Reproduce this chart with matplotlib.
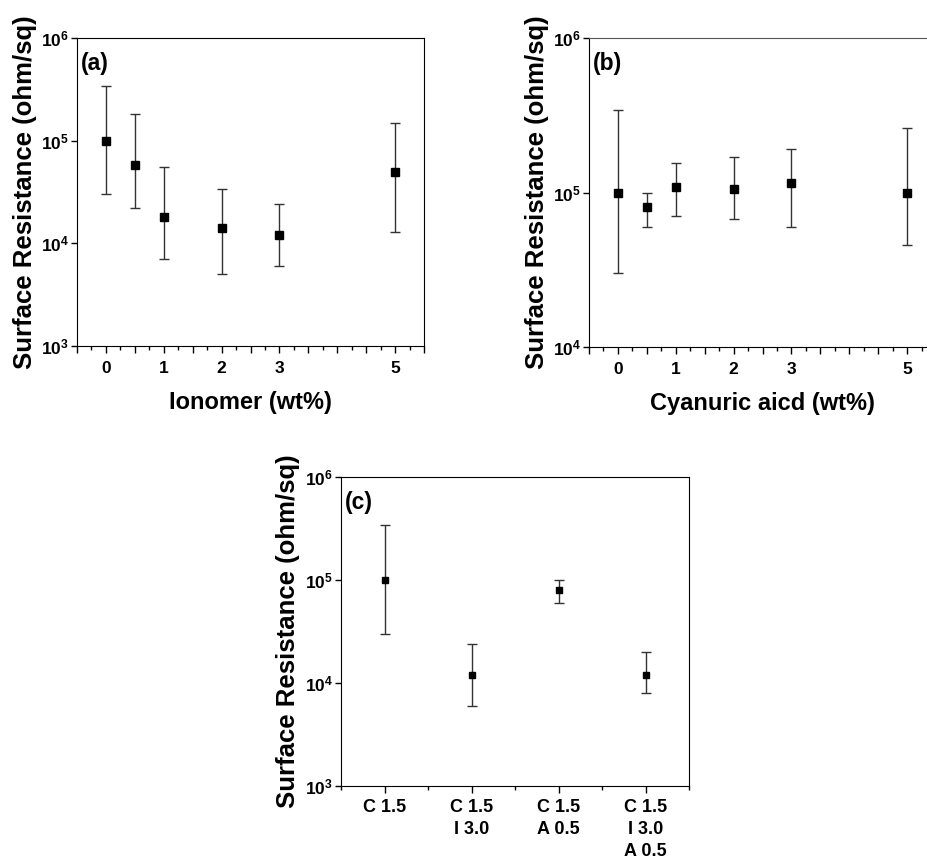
import math
import matplotlib
matplotlib.use("Agg")
import matplotlib.pyplot as plt
from matplotlib.ticker import FixedLocator, NullLocator, FuncFormatter, MultipleLocator

plt.rcParams['font.family'] = ['Liberation Sans', 'DejaVu Sans']
plt.rcParams['font.weight'] = 'bold'
plt.rcParams['mathtext.fontset'] = 'custom'
plt.rcParams['mathtext.rm'] = 'Liberation Sans:bold'
plt.rcParams['mathtext.bf'] = 'Liberation Sans:bold'
plt.rcParams['mathtext.it'] = 'Liberation Sans:bold'

# Panel (a): Ionomer
ion_x = [0, 0.5, 1, 2, 3, 5]
ion_y = [1.0e5, 5.8e4, 1.8e4, 1.41e4, 1.2e4, 5.0e4]
ion_hi = [3.4e5, 1.8e5, 5.5e4, 3.4e4, 2.4e4, 1.5e5]
ion_lo = [3.0e4, 2.2e4, 7.0e3, 5.0e3, 6.0e3, 1.3e4]

# Panel (b): Cyanuric acid
cya_x = [0, 0.5, 1, 2, 3, 5]
cya_y = [1.0e5, 8.0e4, 1.08e5, 1.05e5, 1.15e5, 1.0e5]
cya_hi = [3.4e5, 1.0e5, 1.55e5, 1.7e5, 1.9e5, 2.6e5]
cya_lo = [3.0e4, 6.0e4, 7.0e4, 6.7e4, 6.0e4, 4.6e4]

# Panel (c): combinations
comb_labels = ["C 1.5", "C 1.5\nI 3.0", "C 1.5\nA 0.5", "C 1.5\nI 3.0\nA 0.5"]
comb_y = [1.0e5, 1.2e4, 8.0e4, 1.2e4]
comb_hi = [3.4e5, 2.4e4, 1.0e5, 2.0e4]
comb_lo = [3.0e4, 6.0e3, 6.0e4, 8.0e3]

x_tick_labels_ab = [0, 1, 2, 3, 5]

W, H = 927, 863
fig = plt.figure(figsize=(W / 100, H / 100), dpi=100)


def px_axes(left, top, right, bottom):
    return fig.add_axes([left / W, 1 - bottom / H, (right - left) / W, (bottom - top) / H])


def dec_fmt(v, pos):
    e = int(round(math.log10(v)))
    return r'$\mathbf{10^{%d}}$' % e


def style_y(ax, lo, hi):
    ax.set_yscale('log')
    ax.set_ylim(lo, hi)
    ticks = [10 ** e for e in range(int(round(math.log10(lo))), int(round(math.log10(hi))) + 1)]
    ax.yaxis.set_major_locator(FixedLocator(ticks))
    ax.yaxis.set_minor_locator(NullLocator())
    ax.yaxis.set_major_formatter(FuncFormatter(dec_fmt))
    ax.tick_params(axis='y', which='major', direction='out', length=4, width=1, labelsize=12.5, pad=2)
    ax.set_ylabel('Surface Resistance (ohm/sq)', fontsize=18.5, fontweight='bold')
    ax.yaxis.label.set_va('center')


def err(ax, x, y, lo, hi, ms):
    yerr = [[yy - l for yy, l in zip(y, lo)], [h - yy for yy, h in zip(y, hi)]]
    ax.errorbar(x, y, yerr=yerr, fmt='s', color='black', ms=ms, ecolor='#333333',
                elinewidth=1, capsize=3.5, capthick=1, mec='black', mfc='black')


def ab_panel(ax, x, y, lo, hi, ylo, xlabel, tag):
    err(ax, x, y, lo, hi, 5.4)
    ax.set_xlim(-0.5, 5.5)
    style_y(ax, ylo, 1e6)
    ax.xaxis.set_major_locator(MultipleLocator(0.5))
    ax.xaxis.set_minor_locator(MultipleLocator(0.25))
    ax.xaxis.set_major_formatter(FuncFormatter(
        lambda v, p: (str(int(round(v))) if any(abs(v - t) < 1e-6 for t in x_tick_labels_ab) else '')))
    ax.tick_params(axis='x', which='major', direction='out', length=5, width=1, labelsize=12.5, pad=6)
    ax.tick_params(axis='x', which='minor', direction='out', length=3, width=1)
    ax.set_xlabel(xlabel, fontsize=17, fontweight='bold')
    ax.xaxis.set_label_coords(0.5, -0.183)
    ax.xaxis.label.set_va('center')
    ax.yaxis.set_label_coords(-0.15, 0.5)
    ax.text(0.01, 0.955, tag, transform=ax.transAxes, fontsize=16.5, fontweight='bold',
            va='top', ha='left')


axa = px_axes(77, 38, 424, 346)
ab_panel(axa, ion_x, ion_y, ion_lo, ion_hi, 1e3, 'Ionomer (wt%)', '(a)')

axb = px_axes(589, 38, 936, 347)
ab_panel(axb, cya_x, cya_y, cya_lo, cya_hi, 1e4, 'Cyanuric aicd (wt%)', '(b)')
axb.spines['top'].set_color('#555555')

axc = px_axes(341, 477, 689, 786)
cx = list(range(1, len(comb_labels) + 1))
err(axc, cx, comb_y, comb_lo, comb_hi, 3.8)
axc.set_xlim(0.5, len(comb_labels) + 0.5)
style_y(axc, 1e3, 1e6)
axc.xaxis.set_major_locator(FixedLocator(cx))
axc.xaxis.set_minor_locator(MultipleLocator(0.5))
axc.set_xticklabels(comb_labels, fontsize=13, fontweight='bold', linespacing=1.4)
axc.tick_params(axis='x', which='major', direction='out', length=5, width=1, pad=4)
axc.tick_params(axis='x', which='minor', direction='out', length=3, width=1)
axc.yaxis.set_label_coords(-0.152, 0.5)
axc.text(0.01, 0.955, '(c)', transform=axc.transAxes, fontsize=16.5, fontweight='bold',
         va='top', ha='left')

fig.savefig('out.png', dpi=100)
